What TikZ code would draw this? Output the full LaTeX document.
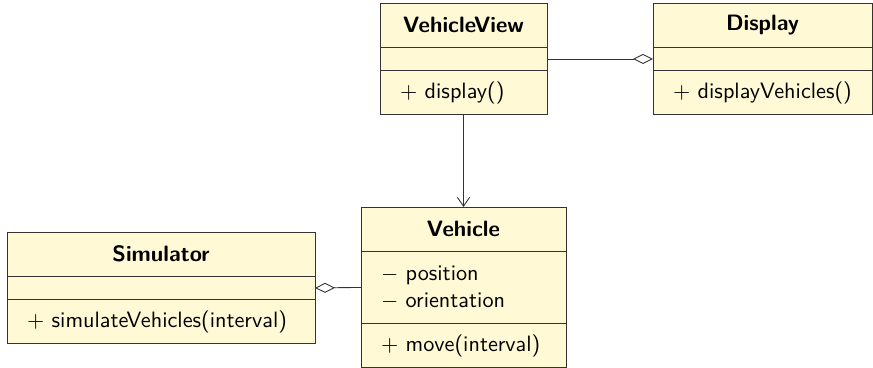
\documentclass[tikz,border=0pt]{standalone}
\usepackage{amsmath}
\usetikzlibrary{arrows.meta}
\definecolor{classfill}{RGB}{255,249,214}
\tikzset{
  classbox/.style={draw=black!80, fill=classfill, outer sep=0pt, inner ysep=0pt, inner xsep=9pt, font=\sffamily},
  classname/.style={classbox, font=\sffamily\bfseries, align=center, minimum height=20pt},
  classattr/.style={classbox, align=left},
  classops/.style={classbox, align=left, minimum height=19.8pt},
  aggreg/.style={draw=black!80, -{Diamond[open,length=9pt,width=4.5pt]}},
  assoc/.style={draw=black!80, -{Straight Barb[length=4pt,width=5.5pt]}}
}
% #1 name, #2 x, #3 y, #4 width, #5 height of attribute part, #6 title, #7 attributes, #8 operations
\newcommand{\umlclass}[8]{
\pgfmathsetmacro{\tw}{#4*0.45-18}
\pgfmathsetmacro{\ah}{#5*0.45}
\node[classname, text width=\tw pt, anchor=north west] (#1) at (#2,#3) {#6};
\node[classattr, text width=\tw pt, minimum height=\ah pt, anchor=north west] (#1-attr) at (#1.south west) {#7};
\node[classops, text width=\tw pt, anchor=north west] (#1-ops) at (#1-attr.south west) {#8};
}

\begin{document}
\begin{tikzpicture}[x=0.45pt,y=-0.45pt]
\useasboundingbox (0,0) rectangle (873,368);
    \umlclass{VehicleView}{380}{3}{167}{23}{VehicleView}{}{$+$ display()}
    \umlclass{Display}{653}{3}{219}{23}{Display}{}{$+$ displayVehicles()}
    \umlclass{Simulator}{7}{232}{308}{23}{Simulator}{}{$+$ simulateVehicles(interval)}
    \umlclass{Vehicle}{361}{207}{205}{72}{Vehicle}{$-$ position\\$-$ orientation}{$+$ move(interval)}

    \draw[aggreg] (VehicleView-attr.east) -- (Display-attr.west);
    \draw[aggreg] (Vehicle-attr.west) -- (Simulator-attr.east);
    \draw[assoc] (VehicleView-ops.south) -- (Vehicle.north);
\end{tikzpicture}
\end{document}
